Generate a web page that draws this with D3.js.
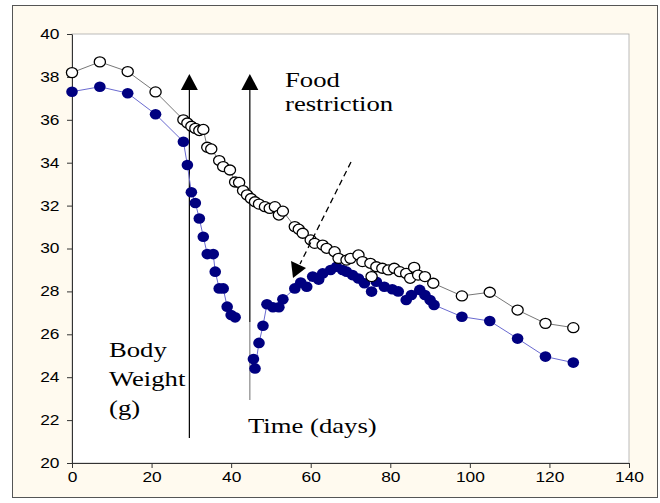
<!DOCTYPE html>
<html>
<head>
<meta charset="utf-8">
<script src="https://cdn.jsdelivr.net/npm/d3@7"></script>
<style>
  body { margin: 0; background: #fff; }
  svg { display: block; }
</style>
</head>
<body>
<div class="chart-container"></div>
<script>
// control group (open circles): [day, weight g]
const controlData = [
  [0, 38.2], [7, 38.7], [14, 38.25], [21, 37.3], [28, 36.0], [29, 35.85], [30, 35.7],
  [31, 35.6], [32, 35.5], [33, 35.55], [34, 34.72], [35, 34.64], [37, 34.1], [38, 33.82],
  [39.7, 33.66], [41, 33.1], [42, 33.08], [43, 32.7], [44, 32.5], [45, 32.33], [46, 32.18],
  [47, 32.07], [48.5, 31.95], [49.7, 31.87], [51, 31.95], [52, 31.56], [53, 31.74],
  [56, 31.02], [57, 30.9], [58, 30.71], [60, 30.4], [61, 30.24], [63, 30.16], [64, 30.01],
  [66, 29.85], [67, 29.54], [69, 29.46], [70, 29.54], [72, 29.7], [73, 29.39], [75, 29.31],
  [75.3, 28.69], [76.5, 29.15], [78, 29.08], [79.5, 29.0], [81, 29.08], [82.4, 28.92],
  [84, 28.84], [85, 28.61], [86, 29.12], [87, 28.76], [88.7, 28.69], [90.8, 28.38],
  [98, 27.79], [105, 27.96], [112, 27.13], [119, 26.51], [126, 26.31]
]

// restricted group (filled circles), null = missing
const restrictedData = [
  [0, 37.31], [7, 37.54], [14, 37.24], [21, 36.26], [28, 34.98], [29, 33.89], [30, 32.62],
  [31, 32.12], [32, 31.4], [33, 30.55], [34, 29.74], [35.5, 29.74], [36, 28.92], [37, 28.14],
  [38, 28.14], [39, 27.29], [40, 26.9], [41, 26.79], [43, null],
  [45.6, 24.85], [46, 24.41], [47, 25.6], [48, 26.4], [49, 27.4], [50.5, 27.26], [52, 27.26],
  [53, 27.63], [56, 28.14], [57.5, 28.41], [59, 28.22], [60.5, 28.69], [62, 28.55],
  [63, 28.84], [65, 29.0], [66.5, 29.15], [68, 29.0], [69, 28.92], [70.5, 28.76],
  [72, 28.6], [73.5, 28.38], [75.3, 27.99], [76.5, 28.45], [78.5, 28.22], [80.5, 28.1],
  [82, 28.0], [84, 27.6], [85.3, 27.83], [87.4, 28.07], [88.7, 27.83], [90, 27.6],
  [91, 27.37], [98, 26.82], [105, 26.62], [112, 25.8], [119, 24.96], [126, 24.68]
]

const xTicks = [0, 20, 40, 60, 80, 100, 120, 140]
const yTicks = [20, 22, 24, 26, 28, 30, 32, 34, 36, 38, 40]
const arrowDays = [29.5, 44.7]

const width = 660
const height = 503
const plot = { left: 72, top: 34, right: 629, bottom: 463 }
// the original picture is stretched sideways, so text is too
const stretch = 1.24

const svg = d3
  .select('.chart-container')
  .append('svg')
  .attr('width', width)
  .attr('height', height)

// outer frame
svg.append('rect')
  .attr('x', 12.5).attr('y', 5.5)
  .attr('width', 645).attr('height', 492)
  .attr('fill', '#fffaef')
  .attr('stroke', '#555')

const x = d3.scaleLinear().domain([0, 140]).range([plot.left, plot.right])
const y = d3.scaleLinear().domain([20, 40]).range([plot.bottom, plot.top])

svg.append('rect')
  .attr('x', plot.left).attr('y', plot.top)
  .attr('width', plot.right - plot.left).attr('height', plot.bottom - plot.top)
  .attr('fill', '#fff')
  .attr('stroke', '#aaa')
  .attr('stroke-width', 0.8)

const xAxis = svg.append('g')
  .attr('transform', `translate(0,${plot.bottom})`)
  .call(d3.axisBottom(x).tickValues(xTicks).tickSize(5).tickSizeOuter(0))
const yAxis = svg.append('g')
  .attr('transform', `translate(${plot.left},0)`)
  .call(d3.axisLeft(y).tickValues(yTicks).tickSize(5).tickSizeOuter(0))

;[xAxis, yAxis].forEach(a => {
  a.selectAll('path, line').attr('stroke', '#333')
  a.selectAll('text')
    .attr('fill', '#000')
    .style('font-family', 'Liberation Sans, Arial, sans-serif')
    .style('font-size', '14px')
})
xAxis.selectAll('text')
  .attr('y', 9)
  .attr('dy', '0.71em')
  .attr('transform', `scale(${stretch},1)`)
yAxis.selectAll('text')
  .attr('x', -12.5 / stretch)
  .attr('transform', `scale(${stretch},1)`)

const line = d3.line()
  .defined(d => d[1] !== null)
  .x(d => x(d[0]))
  .y(d => y(d[1]))

// vertical arrows marking food restriction
const arrows = svg.append('g')
arrows.append('line')
  .attr('x1', x(arrowDays[0])).attr('x2', x(arrowDays[0]))
  .attr('y1', 86).attr('y2', 438)
  .attr('stroke', '#000').attr('stroke-width', 1.2)
arrows.append('line')
  .attr('x1', x(arrowDays[1])).attr('x2', x(arrowDays[1]))
  .attr('y1', 86).attr('y2', 322)
  .attr('stroke', '#000').attr('stroke-width', 1.2)
arrows.append('line')
  .attr('x1', x(arrowDays[1])).attr('x2', x(arrowDays[1]))
  .attr('y1', 322).attr('y2', 400)
  .attr('stroke', '#888').attr('stroke-width', 1.2)
arrowDays.forEach(d => {
  const cx = x(d)
  arrows.append('path')
    .attr('d', `M${cx},74 L${cx - 8.5},90 L${cx + 8.5},90 Z`)
    .attr('fill', '#000')
})

svg.append('path')
  .datum(controlData)
  .attr('fill', 'none')
  .attr('stroke', '#777')
  .attr('stroke-width', 1)
  .attr('d', line)

svg.append('path')
  .datum(restrictedData)
  .attr('fill', 'none')
  .attr('stroke', '#6a6ad0')
  .attr('stroke-width', 1)
  .attr('d', line)

svg.append('g')
  .selectAll('ellipse')
  .data(restrictedData.filter(d => d[1] !== null))
  .enter()
  .append('ellipse')
  .attr('cx', d => x(d[0]))
  .attr('cy', d => y(d[1]))
  .attr('rx', 5.8)
  .attr('ry', 5.3)
  .attr('fill', '#000080')

svg.append('g')
  .selectAll('ellipse')
  .data(controlData)
  .enter()
  .append('ellipse')
  .attr('cx', d => x(d[0]))
  .attr('cy', d => y(d[1]))
  .attr('rx', 5.6)
  .attr('ry', 5)
  .attr('fill', '#fff')
  .attr('stroke', '#000')
  .attr('stroke-width', 1.3)

// dashed arrow
svg.append('line')
  .attr('x1', 351).attr('y1', 162)
  .attr('x2', 300).attr('y2', 264)
  .attr('stroke', '#000')
  .attr('stroke-width', 1.3)
  .attr('stroke-dasharray', '6,4')
svg.append('path')
  .attr('d', 'M291,261 L306,268 L293,278 Z')
  .attr('fill', '#000')

const serif = 'Liberation Serif, Times New Roman, serif'
const labels = [
  { t: 'Food', x: 285, y: 87 },
  { t: 'restriction', x: 285, y: 111 },
  { t: 'Body', x: 109, y: 357 },
  { t: 'Weight', x: 109, y: 386 },
  { t: '(g)', x: 109, y: 415 },
  { t: 'Time (days)', x: 248, y: 433 }
]
svg.append('g')
  .selectAll('text')
  .data(labels)
  .enter()
  .append('text')
  .attr('transform', d => `translate(${d.x},${d.y}) scale(1.27,1)`)
  .style('font-family', serif)
  .style('font-size', '21px')
  .attr('fill', '#000')
  .text(d => d.t)
</script>
</body>
</html>
